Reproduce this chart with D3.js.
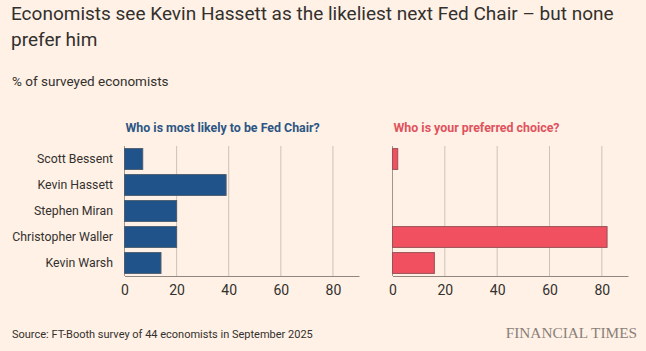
<!DOCTYPE html>
<html>
<head>
<meta charset="utf-8">
<script src="https://cdn.jsdelivr.net/npm/d3@7"></script>
<style>
  body { margin: 0; background: #fff1e5; }
  svg { display: block; }
  text { font-family: "Roboto", sans-serif; fill: #33302e; }
</style>
</head>
<body>
<svg id="chart" width="646" height="351"></svg>
<script>
// ************************************
// Data
// ************************************
const candidates = ["Scott Bessent", "Kevin Hassett", "Stephen Miran", "Christopher Waller", "Kevin Warsh"];
const likelyValues = [7, 39, 20, 20, 14];
const preferredValues = [2, 0, 0, 82, 16];
const xTicks = [0, 20, 40, 60, 80];

const svg = d3.select("#chart");

svg.append("rect").attr("width", 646).attr("height", 351).attr("fill", "#fff1e5");

// Titles
const title = svg.append("text")
    .attr("x", 11)
    .attr("y", 20)
    .style("font-size", "19px");
title.append("tspan").attr("x", 11).text("Economists see Kevin Hassett as the likeliest next Fed Chair – but none");
title.append("tspan").attr("x", 11).attr("dy", 26).text("prefer him");

svg.append("text")
    .attr("x", 12).attr("y", 86)
    .style("font-size", "13.5px")
    .text("% of surveyed economists");

// Shared y scale
const y = d3.scaleBand()
    .domain(candidates)
    .range([146, 276])
    .paddingInner(0.2)
    .paddingOuter(0.1);

const panels = [
    { x0: 124.5, x1: 359, values: likelyValues, fill: "#1f538a", stroke: "#4b5b70", titleColor: "#2c5684", title: "Who is most likely to be Fed Chair?" },
    { x0: 392.5, x1: 628, values: preferredValues, fill: "#f0505f", stroke: "#9a5058", titleColor: "#e0525e", title: "Who is your preferred choice?" }
];

panels.forEach(p => {
    const x = d3.scaleLinear().domain([0, 90]).range([p.x0, p.x1]);
    const g = svg.append("g");

    // gridlines (zero line a little darker)
    g.selectAll(".grid")
        .data(xTicks)
        .enter()
        .append("line")
        .attr("x1", d => x(d)).attr("x2", d => x(d))
        .attr("y1", 146).attr("y2", 276)
        .attr("stroke", d => d === 0 ? "#a1968f" : "#cdc2b9")
        .attr("stroke-width", 1);

    // bars (skip zero values)
    const rows = p.values
        .map((v, j) => ({ v: v, c: candidates[j] }))
        .filter(d => d.v > 0);

    g.selectAll(".bar")
        .data(rows)
        .enter()
        .append("rect")
        .attr("x", x(0))
        .attr("y", d => y(d.c))
        .attr("width", d => x(d.v) - x(0))
        .attr("height", y.bandwidth())
        .attr("fill", p.fill)
        .attr("stroke", p.stroke)
        .attr("stroke-width", 1);

    // axis
    const axis = g.append("g")
        .attr("transform", "translate(0,276)")
        .call(d3.axisBottom(x).tickValues(xTicks).tickSize(0).tickPadding(9));
    axis.select(".domain").attr("stroke", "#8f8880");
    axis.selectAll("text")
        .style("font-size", "14px")
        .style("font-family", "Roboto, sans-serif")
        .attr("fill", "#33302e");

    // panel title
    svg.append("text")
        .attr("x", p.x0 + 1).attr("y", 131.5)
        .style("font-size", "12.4px")
        .style("font-weight", "bold")
        .style("fill", p.titleColor)
        .text(p.title);
});

// category labels
svg.selectAll(".cat")
    .data(candidates)
    .enter()
    .append("text")
    .attr("x", 113)
    .attr("y", d => y(d) + y.bandwidth() / 2)
    .attr("dy", "0.35em")
    .attr("text-anchor", "end")
    .style("font-size", "12.3px")
    .text(d => d);

// footer
svg.append("text")
    .attr("x", 12).attr("y", 338)
    .style("font-size", "11px")
    .text("Source: FT-Booth survey of 44 economists in September 2025");

svg.append("text")
    .attr("x", 637).attr("y", 338)
    .attr("text-anchor", "end")
    .style("font-family", "\"Liberation Serif\", serif")
    .style("font-size", "15.3px")
    .style("fill", "#8a8079")
    .text("FINANCIAL TIMES");
</script>
</body>
</html>
